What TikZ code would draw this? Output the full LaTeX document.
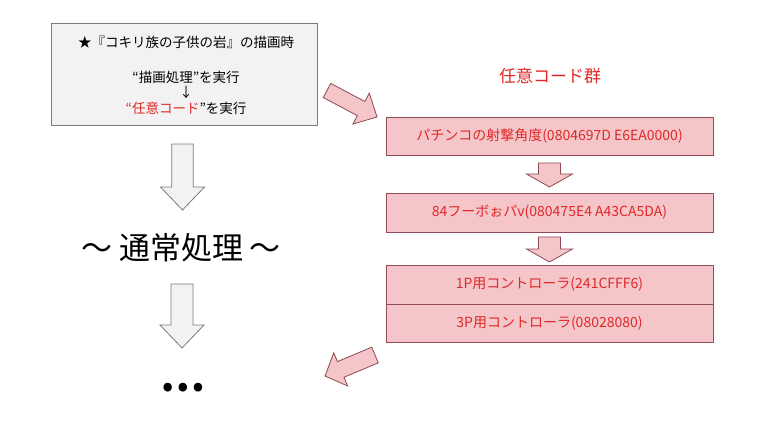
\documentclass[tikz,border=0pt]{standalone}
\usepackage{fontspec}
\setmainfont{Noto Sans CJK JP}
\definecolor{boxgray}{HTML}{7A7A7A}
\definecolor{boxfill}{HTML}{F2F2F2}
\definecolor{pinkline}{HTML}{8E4B55}
\definecolor{pinkfill}{HTML}{F4C6CA}
\definecolor{codered}{HTML}{E02828}
\newcommand{\BlkArrow}[7]{%
  \draw[#1, shift={(#2)}, rotate=#3] (0,-#5) -- ({#4-#7},-#5) -- ({#4-#7},-#6) -- (#4,0)
    -- ({#4-#7},#6) -- ({#4-#7},#5) -- (0,#5) -- cycle;}
\begin{document}
\begin{tikzpicture}[x=1pt,y=-1pt,
  graybox/.style={draw=boxgray, fill=boxfill, line width=0.8pt, inner sep=0pt},
  pinkbox/.style={draw=pinkline, fill=pinkfill, line width=0.8pt, inner sep=0pt,
    minimum width=327pt, text=codered, font=\fontsize{14}{16}\selectfont},
  grayarrow/.style={draw=boxgray, fill=boxfill, line width=0.8pt, line join=miter},
  pinkarrow/.style={draw=pinkline, fill=pinkfill, line width=0.8pt, line join=miter},
  txt/.style={inner sep=0pt, font=\fontsize{13.5}{15}\selectfont}]
\fill[white] (0,0) rectangle (768,432);
\useasboundingbox (0,0) rectangle (768,432);

% top box
\node[graybox, minimum width=266pt, minimum height=102pt] (topbox) at (184,74) {};
\node[txt] (t1) at (186,42) {★『コキリ族の子供の岩』の描画時};
\node[txt] (t2) at (186,77) {“描画処理”を実行};
\node[txt] (t3) at (186,92) {↓};
\node[txt] (t4) at (186,108) {{\color{codered}“任意コード}”を実行};

% left column
\BlkArrow{grayarrow}{182.5,144}{-90}{66}{10.8}{22}{23}
\node[inner sep=0pt, font=\fontsize{31}{34}\selectfont] (normal) at (181,248) {～ 通常処理 ～};
\BlkArrow{grayarrow}{182,284}{-90}{64}{11}{22}{23}
\node[inner sep=0pt, font=\fontsize{40}{44}\selectfont\bfseries] (dots) at (183,388) {…};

% right column
\node[inner sep=0pt, text=codered, font=\fontsize{17}{20}\selectfont] (title) at (550,76) {任意コード群};
\node[pinkbox, minimum height=38pt] (c1) at (549.5,136) {パチンコの射撃角度(0804697D E6EA0000)};
\BlkArrow{pinkarrow}{549.5,163}{-90}{24}{11}{23}{13}
\node[pinkbox, minimum height=39pt] (c2) at (549.5,212.5) {84フーボぉパv(080475E4 A43CA5DA)};
\BlkArrow{pinkarrow}{549.5,237}{-90}{25}{11}{23}{13}
\node[pinkbox, minimum height=39pt] (c3) at (549.5,284.5) {1P用コントローラ(241CFFF6)};
\node[pinkbox, minimum height=38pt] (c4) at (549.5,323) {3P用コントローラ(08028080)};

% diagonal arrows
\BlkArrow{pinkarrow}{327,90.5}{-27.9}{56.6}{8}{17.5}{18}
\BlkArrow{pinkarrow}{375,355}{-157.2}{54.2}{8.5}{18}{17}
\end{tikzpicture}
\end{document}
